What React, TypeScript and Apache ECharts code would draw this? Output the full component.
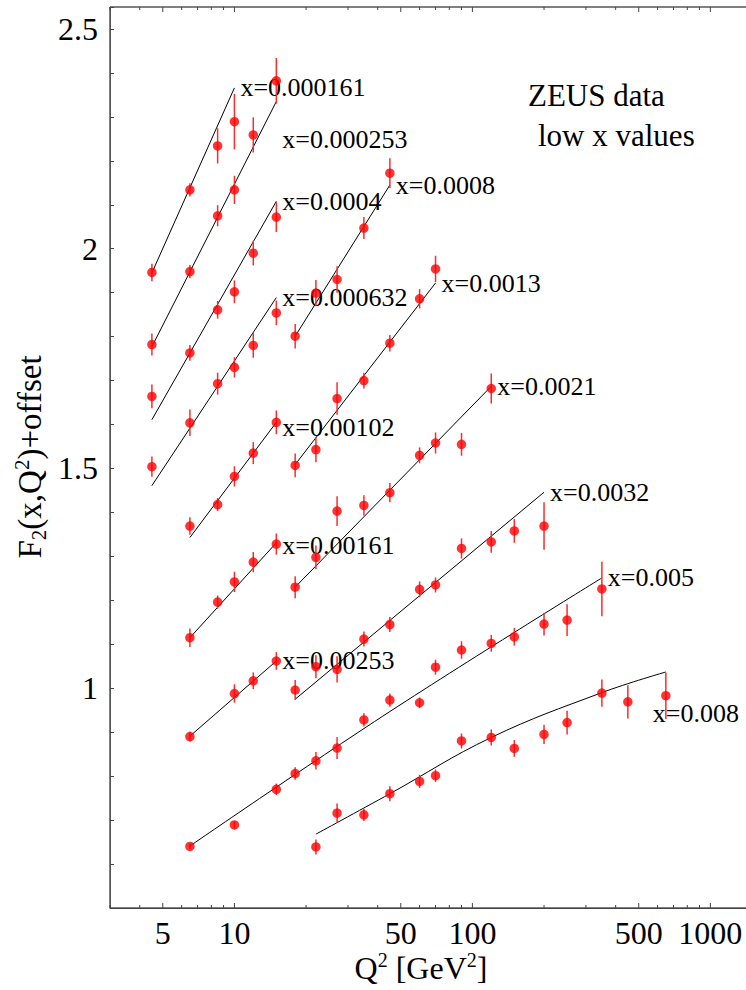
import React, { useEffect, useRef } from 'react';
import * as echarts from 'echarts';

// ---- axis ranges and ticks ----
const Q2_MIN = 3;
const Q2_MAX = 2000;
const F2_MIN = 0.5;
const F2_MAX = 2.55;
const X_TICKS = [3, 4, 5, 6, 7, 8, 9, 10, 20, 30, 40, 50, 60, 70, 80, 90, 100, 200, 300, 400, 500, 600, 700, 800, 900, 1000, 2000];
const X_TICK_LABELS = [5, 10, 50, 100, 500, 1000];
const Y_TICK_LABELS = [1, 1.5, 2, 2.5];

// ---- data: [Q2, F2+offset, error] and fit curves [Q2, F2+offset] ----
const pts_000161 = [[4.5, 1.946, 0.02], [6.5, 2.134, 0.015], [8.5, 2.234, 0.04], [10, 2.289, 0.063]];
const fit_000161 = [[4.5, 1.945], [10, 2.366]];

const pts_000253 = [[4.5, 1.782, 0.025], [6.5, 1.948, 0.015], [8.5, 2.075, 0.024], [10, 2.134, 0.032], [12, 2.259, 0.04], [15, 2.382, 0.052]];
const fit_000253 = [[4.5, 1.777], [15, 2.335]];

const pts_0004 = [[4.5, 1.664, 0.027], [6.5, 1.763, 0.018], [8.5, 1.861, 0.02], [10, 1.902, 0.026], [12, 1.99, 0.028], [15, 2.072, 0.034]];
const fit_0004 = [[4.5, 1.611], [15, 2.108]];

const pts_000632 = [[4.5, 1.504, 0.023], [6.5, 1.604, 0.03], [8.5, 1.693, 0.025], [10, 1.73, 0.023], [12, 1.78, 0.028], [15, 1.854, 0.028]];
const fit_000632 = [[4.5, 1.461], [15, 1.889]];

const pts_0008 = [[18, 1.801, 0.028], [22, 1.899, 0.03], [27, 1.93, 0.03], [35, 2.047, 0.025], [45, 2.172, 0.034]];
const fit_0008 = [[18, 1.801], [45, 2.145]];

const pts_00102 = [[6.5, 1.369, 0.02], [8.5, 1.418, 0.015], [10, 1.482, 0.023], [12, 1.535, 0.025], [15, 1.605, 0.027]];
const fit_00102 = [[6.5, 1.343], [15, 1.605]];

const pts_0013 = [[18, 1.507, 0.027], [22, 1.543, 0.029], [27, 1.659, 0.037], [35, 1.7, 0.018], [45, 1.785, 0.019], [60, 1.886, 0.022], [70, 1.954, 0.03]];
const fit_0013 = [[18, 1.509], [70, 1.922]];

const pts_00161 = [[6.5, 1.115, 0.021], [8.5, 1.196, 0.015], [10, 1.242, 0.023], [12, 1.287, 0.023], [15, 1.328, 0.024]];
const fit_00161 = [[6.5, 1.115], [15, 1.331]];

const pts_0021 = [[18, 1.23, 0.025], [22, 1.298, 0.027], [27, 1.403, 0.034], [35, 1.416, 0.023], [45, 1.445, 0.022], [60, 1.53, 0.018], [70, 1.558, 0.024], [90, 1.555, 0.026], [120, 1.682, 0.034]];
const fit_0021 = [[18, 1.23], [120, 1.687]];

const pts_00253 = [[6.5, 0.89, 0.011], [10, 0.988, 0.021], [12, 1.017, 0.019], [15, 1.062, 0.02]];
const fit_00253 = [[6.5, 0.891], [15, 1.062]];

const pts_0032 = [[18, 0.996, 0.023], [22, 1.049, 0.026], [27, 1.043, 0.03], [35, 1.112, 0.017], [45, 1.145, 0.017], [60, 1.225, 0.018], [70, 1.235, 0.017], [90, 1.318, 0.023], [120, 1.333, 0.025], [150, 1.358, 0.027], [200, 1.369, 0.054]];
const fit_0032 = [[18, 0.975], [200, 1.446]];

const pts_005 = [[6.5, 0.64, 0.006], [10, 0.689, 0.008], [15, 0.77, 0.013], [18, 0.806, 0.014], [22, 0.835, 0.02], [27, 0.864, 0.025], [35, 0.928, 0.015], [45, 0.973, 0.015], [60, 0.967, 0.012], [70, 1.048, 0.017], [90, 1.087, 0.02], [120, 1.102, 0.019], [150, 1.117, 0.02], [200, 1.146, 0.026], [250, 1.155, 0.036], [350, 1.226, 0.062]];
const fit_005 = [[6.5, 0.641], [45, 0.947], [350, 1.251]];

const pts_008 = [[22, 0.639, 0.017], [27, 0.716, 0.022], [35, 0.712, 0.014], [45, 0.76, 0.017], [60, 0.788, 0.015], [70, 0.801, 0.014], [90, 0.88, 0.017], [120, 0.888, 0.018], [150, 0.863, 0.019], [200, 0.895, 0.022], [250, 0.922, 0.027], [350, 0.989, 0.031], [450, 0.969, 0.038], [650, 0.983, 0.053]];
const fit_008 = [[22, 0.668], [45, 0.76], [120, 0.888], [350, 0.99], [650, 1.037]];

const BIN_LABELS = ['x=0.000161', 'x=0.000253', 'x=0.0004', 'x=0.000632', 'x=0.0008', 'x=0.00102', 'x=0.0013', 'x=0.00161', 'x=0.0021', 'x=0.00253', 'x=0.0032', 'x=0.005', 'x=0.008'];
const BIN_POINTS = [pts_000161, pts_000253, pts_0004, pts_000632, pts_0008, pts_00102, pts_0013, pts_00161, pts_0021, pts_00253, pts_0032, pts_005, pts_008];
const BIN_FITS = [fit_000161, fit_000253, fit_0004, fit_000632, fit_0008, fit_00102, fit_0013, fit_00161, fit_0021, fit_00253, fit_0032, fit_005, fit_008];

// label placement tweaks (style, not data)
const LABEL_OFFSETS: Record<string, number[]> = {
  'x=0.000253': [0, 38],
  'x=0.00102': [0, 5],
  'x=0.00161': [0, 3],
  'x=0.008': [-19, 42],
};

const SERIF = 'Liberation Serif';

export default function App() {
  const ref = useRef<HTMLDivElement>(null);

  useEffect(() => {
    if (!ref.current) return;
    const chart = echarts.init(ref.current, null, { renderer: 'svg' });

    const allPoints: number[][] = [];
    BIN_POINTS.forEach((arr) => arr.forEach((p) => allPoints.push(p)));

    const lineSeries = BIN_FITS.map((fit, i) => ({
      type: 'line',
      name: BIN_LABELS[i],
      data: fit,
      symbol: 'none',
      smooth: fit.length > 2 ? 0.4 : false,
      silent: true,
      z: 3,
      lineStyle: { color: '#000', width: 1 },
      endLabel: {
        show: true,
        formatter: BIN_LABELS[i],
        distance: 6,
        offset: LABEL_OFFSETS[BIN_LABELS[i]] || [0, 0],
        fontSize: 26,
        fontFamily: SERIF,
        color: '#000',
      },
    }));

    const option: any = {
      animation: false,
      backgroundColor: '#fff',
      grid: {
        left: 110,
        top: 7,
        width: 672,
        height: 901,
        containLabel: false,
        outerBoundsMode: 'none',
        show: true,
        borderColor: '#000',
        borderWidth: 1,
        backgroundColor: 'transparent',
      },
      xAxis: {
        type: 'log',
        logBase: 10,
        min: Q2_MIN,
        max: Q2_MAX,
        axisLine: { show: true, lineStyle: { color: '#444', width: 1 } },
        axisTick: { show: false },
        axisLabel: { show: false },
        splitLine: { show: false },
      },
      yAxis: {
        type: 'value',
        min: F2_MIN,
        max: F2_MAX,
        interval: 0.1,
        axisLine: { show: true, lineStyle: { color: '#555', width: 1 } },
        axisTick: { show: true, inside: true, length: 4, lineStyle: { color: '#444' } },
        axisLabel: {
          fontSize: 32,
          fontFamily: SERIF,
          color: '#000',
          margin: 12,
          formatter: (v: number) => {
            const hit = Y_TICK_LABELS.find((t) => Math.abs(t - v) < 1e-6);
            return hit !== undefined ? String(hit) : '';
          },
        },
        splitLine: { show: false },
      },
      series: [
        ...lineSeries,
        {
          type: 'custom',
          name: 'errors',
          silent: true,
          z: 4,
          data: allPoints,
          encode: { x: 0, y: 1 },
          renderItem: (params: any, api: any) => {
            const x = api.value(0);
            const y = api.value(1);
            const e = api.value(2);
            const p1 = api.coord([x, y - e]);
            const p2 = api.coord([x, y + e]);
            return {
              type: 'line',
              shape: { x1: p1[0], y1: p1[1], x2: p2[0], y2: p2[1] },
              style: { stroke: '#ff2a2a', lineWidth: 1.5 },
            };
          },
        },
        {
          type: 'scatter',
          name: 'ZEUS',
          silent: true,
          z: 5,
          symbol: 'circle',
          symbolSize: 9.5,
          itemStyle: { color: '#ff0000' },
          data: allPoints.map((p) => [p[0], p[1]]),
        },
        {
          type: 'custom',
          name: 'xticks',
          silent: true,
          z: 6,
          data: X_TICKS.map((v) => [v, F2_MIN]),
          encode: { x: 0, y: 1 },
          renderItem: (params: any, api: any) => {
            const v = api.value(0);
            const pb = api.coord([v, F2_MIN]);
            const pt = api.coord([v, F2_MAX]);
            const major = X_TICK_LABELS.indexOf(v) >= 0;
            const len = major ? 5 : 3;
            const children: any[] = [
              { type: 'line', shape: { x1: pb[0], y1: pb[1], x2: pb[0], y2: pb[1] - len }, style: { stroke: '#444', lineWidth: 1 } },
              { type: 'line', shape: { x1: pt[0], y1: pt[1], x2: pt[0], y2: pt[1] + len }, style: { stroke: '#444', lineWidth: 1 } },
            ];
            if (major) {
              children.push({
                type: 'text',
                x: pb[0],
                y: pb[1] + 9,
                style: { text: String(v), align: 'center', verticalAlign: 'top', fontSize: 32, fontFamily: SERIF, fill: '#000' },
              });
            }
            return { type: 'group', children };
          },
        },
      ],
      graphic: [
        {
          type: 'text',
          x: 30,
          y: 457,
          rotation: Math.PI / 2,
          style: {
            text: 'F{sub|2}(x,Q{sup|2})+offset',
            align: 'center',
            verticalAlign: 'middle',
            fontSize: 33,
            fontFamily: SERIF,
            fill: '#000',
            rich: {
              sub: { fontSize: 21, fontFamily: SERIF, verticalAlign: 'bottom', lineHeight: 38, fill: '#000' },
              sup: { fontSize: 21, fontFamily: SERIF, verticalAlign: 'top', lineHeight: 38, fill: '#000' },
            },
          },
        },
        {
          type: 'text',
          x: 421,
          y: 968,
          style: {
            text: 'Q{sup|2} [GeV{sup|2}]',
            align: 'center',
            verticalAlign: 'middle',
            fontSize: 32,
            fontFamily: SERIF,
            fill: '#000',
            rich: {
              sup: { fontSize: 20, fontFamily: SERIF, verticalAlign: 'top', lineHeight: 36, fill: '#000' },
            },
          },
        },
        {
          type: 'text',
          x: 528,
          y: 95,
          style: { text: 'ZEUS data', align: 'left', verticalAlign: 'middle', fontSize: 31, fontFamily: SERIF, fill: '#000' },
        },
        {
          type: 'text',
          x: 538,
          y: 135,
          style: { text: 'low x values', align: 'left', verticalAlign: 'middle', fontSize: 31, fontFamily: SERIF, fill: '#000' },
        },
      ],
    };

    chart.setOption(option);
    return () => chart.dispose();
  }, []);

  return (
    <div
      ref={ref}
      style={{ position: 'absolute', left: 0, top: 0, width: 746, height: 990, overflow: 'hidden', background: '#fff' }}
    />
  );
}
